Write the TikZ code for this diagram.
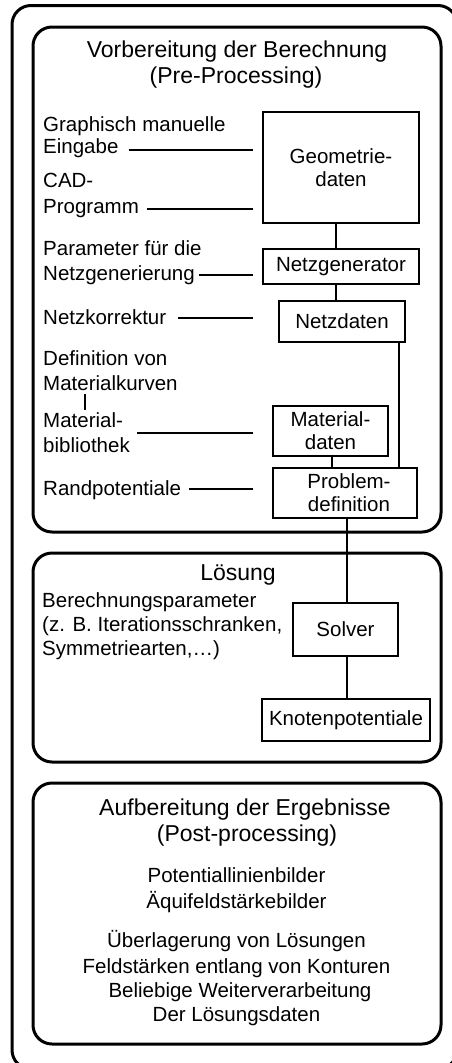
\documentclass[tikz,border=0pt]{standalone}
\usepackage{fontspec}
\setmainfont{Liberation Sans}
\begin{document}
\begin{tikzpicture}[x=1pt,y=-1pt,
  lbl/.style={anchor=base west, inner sep=0pt, font=\fontsize{20.5}{24}\selectfont},
  ctxt/.style={anchor=base, inner sep=0pt, font=\fontsize{20.5}{24}\selectfont},
  ttl/.style={anchor=base, inner sep=0pt, font=\fontsize{23}{27}\selectfont},
  grp/.style={draw, line width=3pt, rounded corners=19pt},
  blk/.style={draw, line width=1.2pt, inner sep=0pt, align=center, font=\fontsize{20.5}{23}\selectfont},
  conn/.style={line width=2.8pt}]
\useasboundingbox (0,0) rectangle (452,1063);
\clip (0,0) rectangle (452,1063);
% group frames
\draw[grp] (12,5.5) rectangle (457,1069);
\draw[grp] (33,27) rectangle (441,532);
\draw[grp] (33,553) rectangle (441,762);
\draw[grp] (33,783) rectangle (441,1044);
% titles
\node[ttl] (t1a) at (237,57) {Vorbereitung der Berechnung};
\node[ttl] (t1b) at (236,83) {(Pre-Processing)};
\node[ttl] (t2) at (238,580) {Lösung};
\node[ttl] (t3a) at (245,815) {Aufbereitung der Ergebnisse};
\node[ttl] (t3b) at (247,841) {(Post-processing)};
% blocks
\node[blk, minimum width=156pt, minimum height=111pt] (geo) at (341,167.5) {Geometrie-\\daten};
\node[blk, minimum width=156pt, minimum height=35pt] (ngen) at (341,266.5) {Netzgenerator};
\node[blk, minimum width=126pt, minimum height=41pt] (ndat) at (342,321.5) {Netzdaten};
\node[blk, minimum width=115pt, minimum height=50pt] (mat) at (330.5,431) {Material-\\daten};
\node[blk, minimum width=144pt, minimum height=50pt] (prob) at (345,493) {\hspace*{8pt}Problem-\\\hspace*{8pt}definition};
\node[blk, minimum width=105pt, minimum height=53pt] (solv) at (345.5,629.5) {Solver};
\node[blk, minimum width=168pt, minimum height=42pt] (knot) at (346,720) {Knotenpotentiale};
% left labels
\node[lbl] (g1) at (43,131) {Graphisch manuelle};
\node[lbl] (g2) at (43,153) {Eingabe};
\node[lbl] (c1) at (43,187) {CAD-};
\node[lbl] (c2) at (43,213) {Programm};
\node[lbl] (p1) at (43,255) {Parameter für die};
\node[lbl] (p2) at (43,280) {Netzgenerierung};
\node[lbl] (nk) at (43,324) {Netzkorrektur};
\node[lbl] (d1) at (43,365) {Definition von};
\node[lbl] (d2) at (43,390) {Materialkurven};
\node[lbl] (m1) at (43,427) {Material-};
\node[lbl] (m2) at (43,452) {bibliothek};
\node[lbl] (rp) at (43,495) {Randpotentiale};
\node[lbl] (b1) at (42,607) {Berechnungsparameter};
\node[lbl] (b2) at (42,631) {(z. B. Iterationsschranken,};
\node[lbl] (b3) at (42,655) {Symmetriearten,…)};
% post-processing texts
\node[ctxt] (q1) at (236.5,882) {Potentiallinienbilder};
\node[ctxt] (q2) at (236.5,908) {Äquifeldstärkebilder};
\node[ctxt] (q3) at (236.5,947) {Überlagerung von Lösungen};
\node[ctxt] (q4) at (236.5,973) {Feldstärken entlang von Konturen};
\node[ctxt] (q5) at (240,997) {Beliebige Weiterverarbeitung};
\node[ctxt] (q6) at (236.5,1021) {Der Lösungsdaten};
% connectors between blocks
\coordinate (cxa) at (336,0);
\coordinate (cxb) at (399,0);
\coordinate (cxc) at (332,0);
\coordinate (cxd) at (347,0);
\draw[conn] (geo.south -| cxa) -- (ngen.north -| cxa);
\draw[conn] (ngen.south -| cxa) -- (ndat.north -| cxa);
\draw[conn] (ndat.south -| cxb) -- (prob.north -| cxb);
\draw[conn] (mat.south -| cxc) -- (prob.north -| cxc);
\draw[conn] (prob.south -| cxd) -- (solv.north -| cxd);
\draw[conn] (solv.south -| cxd) -- (knot.north -| cxd);
% label lines
\coordinate (lend) at (253,0);
\draw[conn] ([xshift=10pt,yshift=3pt]g2.base east) -- ([yshift=3pt]g2.base east -| lend);
\draw[conn] ([xshift=8pt,yshift=4pt]c2.base east) -- ([yshift=4pt]c2.base east -| lend);
\draw[conn] ([xshift=4pt,yshift=5pt]p2.base east) -- ([yshift=5pt]p2.base east -| lend);
\draw[conn] ([xshift=12pt,yshift=6pt]nk.base east) -- ([yshift=6pt]nk.base east -| lend);
\draw[conn] ([xshift=14pt,yshift=-6pt]m1.base east) -- ([yshift=-6pt]m1.base east -| lend);
\draw[conn] ([xshift=8pt,yshift=6pt]rp.base east) -- ([yshift=6pt]rp.base east -| lend);
\draw[conn] ([xshift=42pt,yshift=-4pt]d2.base west) -- ([xshift=42pt,yshift=17pt]m1.base west);
\end{tikzpicture}
\end{document}
